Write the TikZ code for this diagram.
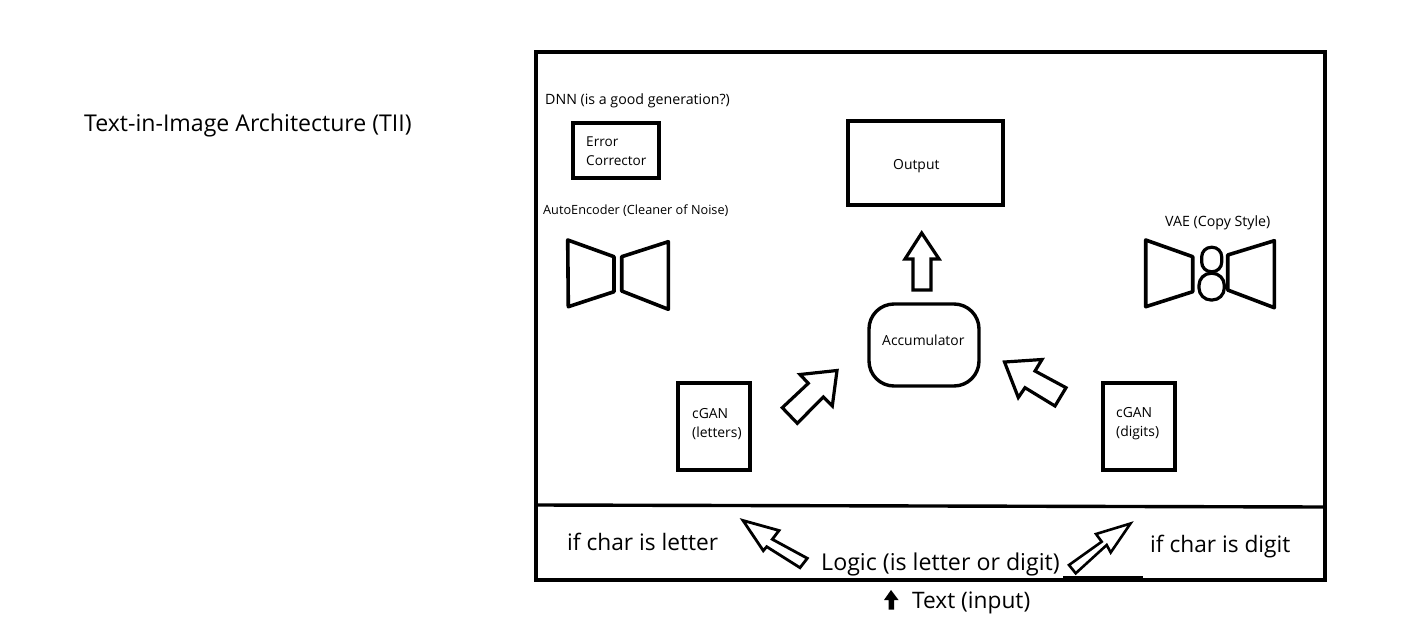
\documentclass[tikz,border=0pt]{standalone}
\usepackage{fontspec}
\setmainfont{Open Sans}
\tikzset{
  box/.style={draw=black,line width=3.4pt,fill=white},
  shape3/.style={draw=black,line width=3.6pt,line join=round,fill=white},
  fat/.style={draw=black,line width=3.2pt,line join=miter,fill=white},
  lbl/.style={anchor=west,inner sep=0pt,text=black,align=left},
  big/.style={lbl,font=\fontsize{22.7}{26}\selectfont},
  mid/.style={lbl,font=\fontsize{13.9}{19}\selectfont},
  small/.style={lbl,font=\fontsize{14.2}{18}\selectfont}
}
\begin{document}
\begin{tikzpicture}[x=1pt,y=-1pt]
\useasboundingbox[fill=white] (0,0) rectangle (1416,616);
% frame
\node[draw=black,line width=3.6pt,minimum width=789pt,minimum height=528pt,inner sep=0pt,outer sep=0pt,anchor=north west] (frame) at (536,52) {};
\coordinate (divL) at (537,505);
\coordinate (divR) at (1325,507);
\draw[line width=3.4pt] (divL) -- (divR);
\coordinate (underL) at (1063,577);
\coordinate (underR) at (1143,577);
\draw[line width=2pt] (underL) -- (underR);
% boxes
\draw[box] (573,123) rectangle (659,178);
\draw[box] (848,121) rectangle (1003,205);
\draw[box,rounded corners=25pt] (869,304) rectangle (979,386);
\draw[box] (678,383) rectangle (750,470);
\draw[box] (1103,383) rectangle (1175,470);
% bow ties
\draw[shape3] (567.7,240) -- (614,256.7) -- (614,291.7) -- (568.3,306.7) -- cycle;
\draw[shape3] (621.7,256.7) -- (668.3,241.7) -- (668.3,309.3) -- (621.7,291) -- cycle;
\draw[shape3] (1145.7,240) -- (1192.7,256.7) -- (1192.7,291.7) -- (1145.7,306.7) -- cycle;
\draw[shape3] (1227.7,255) -- (1274.3,240.7) -- (1274.3,307.7) -- (1227.7,290) -- cycle;
\draw[draw=black,line width=3.2pt,rounded corners=9.5pt] (1201.7,247.3) rectangle (1221.7,271.7);
\draw[draw=black,line width=3.2pt,rounded corners=12pt] (1199,273.3) rectangle (1224.3,300);
% block arrows
\draw[fat] (921.7,233) -- (939,259) -- (931,259) -- (931,290) -- (913,290) -- (913,259) -- (905,259) -- cycle;
\draw[fat] (837,370.5) -- (832.3,406) -- (823.3,397) -- (797.3,423.3) -- (782.3,407.7) -- (808.3,383.3) -- (800,374.5) -- cycle;
\draw[fat] (1004.5,362) -- (1042,359.5) -- (1035,371) -- (1066,387.7) -- (1055,406) -- (1025,387.7) -- (1018.3,397.5) -- cycle;
\draw[fat,line width=2.8pt] (743,520.5) -- (779,530.5) -- (772.3,539.3) -- (807.3,558.3) -- (800,567.7) -- (766.7,546.7) -- (763.3,550.7) -- cycle;
\draw[fat,line width=2.6pt] (1130.5,523.5) -- (1110.7,552.5) -- (1106.7,545) -- (1075.7,573.3) -- (1069,565) -- (1101.7,541.7) -- (1096,534) -- cycle;
\fill[black] (891,590) -- (898.5,600) -- (894,600) -- (894,609.5) -- (888.5,609.5) -- (888.5,600) -- (884,600) -- cycle;
% labels
\node[big,font=\fontsize{23.1}{26}\selectfont] (title) at (84,125) {Text-in-Image Architecture (TII)};
\node[small] (dnn) at (545,101) {DNN (is a good generation?)};
\node[mid,font=\fontsize{13.6}{19}\selectfont] (err) at (586,151) {Error\\Corrector};
\node[small,font=\fontsize{12.7}{18}\selectfont] (ae) at (543,211) {AutoEncoder (Cleaner of Noise)};
\node[small] (vae) at (1165,223) {VAE (Copy Style)};
\node[mid] (out) at (893,166) {Output};
\node[mid] (acc) at (882,340) {Accumulator};
\node[mid] (gl) at (692,424) {cGAN\\(letters)};
\node[mid] (gd) at (1116,424) {cGAN\\(digits)};
\node[big] (il) at (567,542) {if char is letter};
\node[big,font=\fontsize{23.2}{26}\selectfont] (logic) at (821,564) {Logic (is letter or digit)};
\node[big] (id) at (1150,547) {if char is digit};
\node[big] (input) at (912,603) {Text (input)};
\end{tikzpicture}
\end{document}
